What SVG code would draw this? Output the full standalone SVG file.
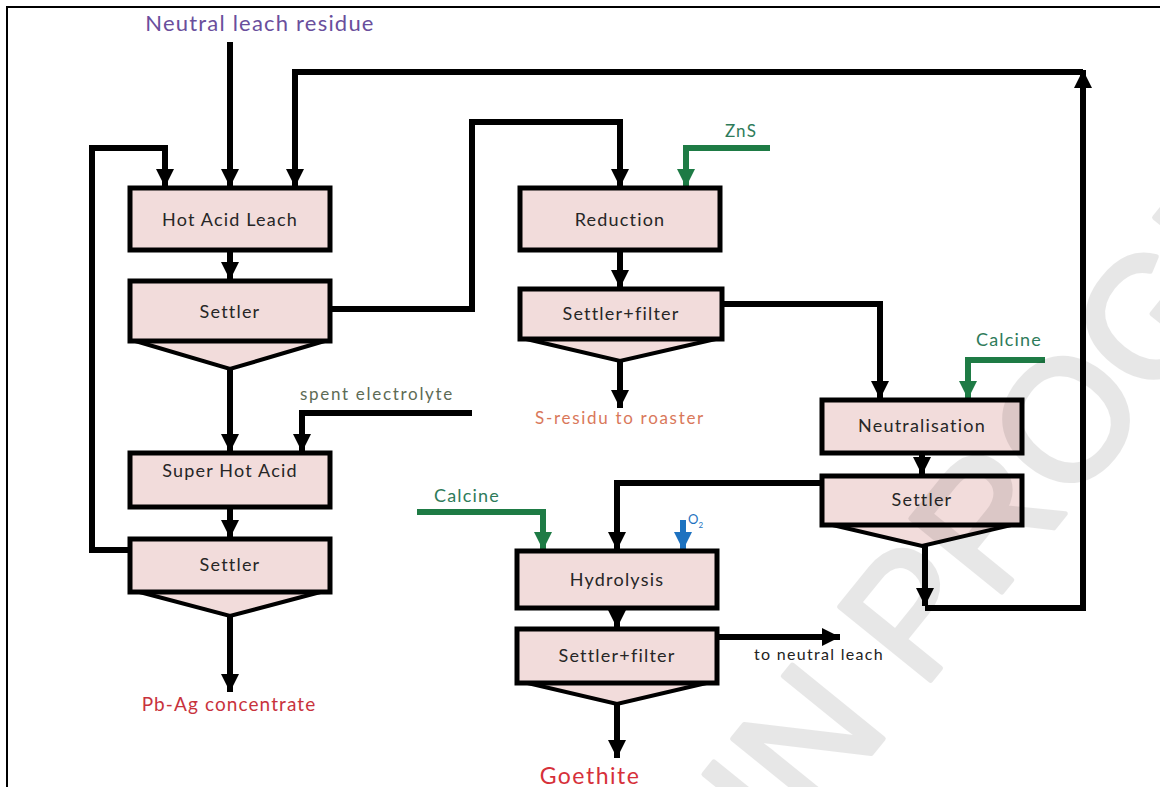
<svg xmlns="http://www.w3.org/2000/svg" width="1160" height="787" viewBox="0 0 1160 787">
<defs>
<style>
.box{fill:#f2dcdb;stroke:#000;stroke-width:5}
.fun{fill:#f2dcdb;stroke:#000;stroke-width:4;stroke-linejoin:miter}
.lbl{font-family:Lato,"Liberation Sans",sans-serif;font-size:18px;fill:#262626;text-anchor:middle;letter-spacing:1.2px}
.ln{fill:none;stroke:#000;stroke-width:6;stroke-linejoin:miter}
.gl{fill:none;stroke:#1e7b45;stroke-width:6}
.bl{fill:none;stroke:#1d72c0;stroke-width:6}
.t{font-family:Lato,"Liberation Sans",sans-serif;text-anchor:middle}
</style>
<marker id="ah" viewBox="0 0 20 18" refX="18" refY="9" markerWidth="20" markerHeight="18" markerUnits="userSpaceOnUse" orient="auto"><path d="M0,0 L18,9 L0,18 z" fill="#000"/></marker>
<marker id="ag" viewBox="0 0 20 18" refX="18" refY="9" markerWidth="20" markerHeight="18" markerUnits="userSpaceOnUse" orient="auto"><path d="M0,0 L18,9 L0,18 z" fill="#1e7b45"/></marker>
<marker id="ab" viewBox="0 0 20 18" refX="18" refY="9" markerWidth="20" markerHeight="18" markerUnits="userSpaceOnUse" orient="auto"><path d="M0,0 L18,9 L0,18 z" fill="#1d72c0"/></marker>
</defs>
<rect x="0" y="0" width="1160" height="787" fill="#fff"/>
<rect x="7" y="7" width="1200" height="900" fill="none" stroke="#000" stroke-width="2"/>

<g id="connectors">
<path class="ln" d="M230,42 V187" marker-end="url(#ah)"/>
<path class="ln" d="M130,550 H92 V148 H165 V187" marker-end="url(#ah)"/>
<path class="ln" d="M1083,72 H295 V187" marker-end="url(#ah)"/>
<path class="ln" d="M230,250 V280" marker-end="url(#ah)"/>
<path class="ln" d="M330,309 H472 V122 H620 V187" marker-end="url(#ah)"/>
<path class="ln" d="M230,368 V452" marker-end="url(#ah)"/>
<path class="ln" d="M472,413 H302 V452" marker-end="url(#ah)"/>
<path class="ln" d="M230,507 V538" marker-end="url(#ah)"/>
<path class="ln" d="M230,615 V692" marker-end="url(#ah)"/>
<path class="gl" d="M770,148 H686 V187" marker-end="url(#ag)"/>
<path class="ln" d="M620,250 V288" marker-end="url(#ah)"/>
<path class="ln" d="M620,360 V408" marker-end="url(#ah)"/>
<path class="ln" d="M722,304 H880 V399" marker-end="url(#ah)"/>
<path class="gl" d="M1045,360 H968 V399" marker-end="url(#ag)"/>
<path class="ln" d="M922,453 V475" marker-end="url(#ah)"/>
<path class="ln" d="M925,545 V606" marker-end="url(#ah)"/>
<path class="ln" d="M925,608 H1083 V70" marker-end="url(#ah)"/>
<path class="ln" d="M822,483 H617 V550" marker-end="url(#ah)"/>
<path class="gl" d="M417,512 H543 V550" marker-end="url(#ag)"/>
<path class="bl" d="M683,520 V550" marker-end="url(#ab)"/>
<path class="ln" d="M617,608 V628" marker-end="url(#ah)"/>
<path class="ln" d="M617,703 V758" marker-end="url(#ah)"/>
<path class="ln" d="M717,637 H840" marker-end="url(#ah)"/>
</g>

<g id="hot-acid-leach">
<rect class="box" x="130" y="188" width="200" height="62"/>
<text class="lbl" x="230" y="226">Hot Acid Leach</text>
</g>
<g id="settler-1">
<polygon class="fun" points="132,340 328,340 230,369"/>
<rect class="box" x="130" y="281" width="200" height="60"/>
<text class="lbl" x="230" y="318">Settler</text>
</g>
<g id="super-hot-acid">
<rect class="box" x="130" y="453" width="200" height="54"/>
<text class="lbl" x="230" y="477">Super Hot Acid</text>
</g>
<g id="settler-2">
<polygon class="fun" points="132,590 328,590 230,616"/>
<rect class="box" x="130" y="539" width="200" height="53"/>
<text class="lbl" x="230" y="571">Settler</text>
</g>
<g id="reduction">
<rect class="box" x="520" y="188" width="200" height="62"/>
<text class="lbl" x="620" y="226">Reduction</text>
</g>
<g id="settler-filter-1">
<polygon class="fun" points="522,338 720,338 620,361"/>
<rect class="box" x="520" y="289" width="202" height="50"/>
<text class="lbl" x="621" y="320">Settler+filter</text>
</g>
<g id="neutralisation">
<rect class="box" x="822" y="400" width="200" height="53"/>
<text class="lbl" x="922" y="432">Neutralisation</text>
</g>
<g id="settler-3">
<polygon class="fun" points="824,523 1020,523 922,546"/>
<rect class="box" x="822" y="476" width="200" height="49"/>
<text class="lbl" x="922" y="506">Settler</text>
</g>
<g id="hydrolysis">
<rect class="box" x="517" y="551" width="200" height="57"/>
<text class="lbl" x="617" y="586">Hydrolysis</text>
</g>
<g id="settler-filter-2">
<polygon class="fun" points="519,681 715,681 617,704"/>
<rect class="box" x="517" y="629" width="200" height="54"/>
<text class="lbl" x="617" y="662">Settler+filter</text>
</g>

<g id="labels">
<text class="t" x="260" y="31" font-size="22" letter-spacing="1.2" fill="#6a4e9c">Neutral leach residue</text>
<text class="t" x="741" y="137" font-size="17" letter-spacing="1.2" fill="#2e7b5a">ZnS</text>
<text class="t" x="377" y="400" font-size="17" letter-spacing="1.7" fill="#5d6b55">spent electrolyte</text>
<text class="t" x="620" y="424" font-size="17" letter-spacing="1.7" fill="#d9785a">S-residu to roaster</text>
<text class="t" x="1009" y="346" font-size="18" letter-spacing="1.2" fill="#2e7b5a">Calcine</text>
<text class="t" x="467" y="502" font-size="18" letter-spacing="1.2" fill="#2e7b5a">Calcine</text>
<text x="688" y="524" font-family="Lato, sans-serif" font-size="13" fill="#1d72c0">O<tspan font-size="8" dy="4">2</tspan></text>
<text class="t" x="229" y="711" font-size="19" letter-spacing="1.1" fill="#c8323c">Pb-Ag concentrate</text>
<text class="t" x="590" y="784" font-size="23" letter-spacing="1.5" fill="#d6303a">Goethite</text>
<text class="t" x="819" y="660" font-size="16" letter-spacing="1.3" fill="#222">to neutral leach</text>
</g>

<g opacity="0.09">
<text x="785" y="860" transform="rotate(-51 785 860)" font-family="Liberation Sans, sans-serif" font-size="170" fill="#000" stroke="#000" stroke-width="5" stroke-linejoin="round">IN PROGRESS</text>
</g>
</svg>
